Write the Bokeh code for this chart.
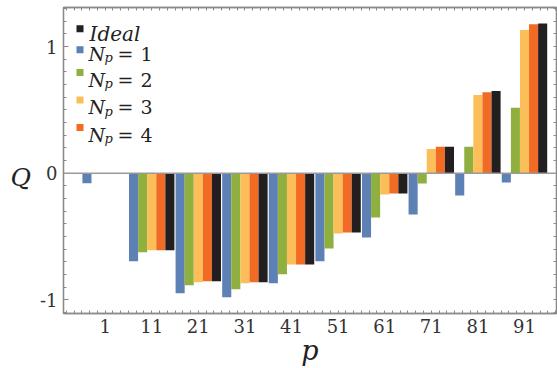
import numpy as np
from bokeh.plotting import figure
from bokeh.models import FixedTicker, LinearAxis, Range1d, Span, Label
from bokeh.embed import file_html
from bokeh.resources import INLINE

# ---------------- data ----------------
p_values = [1, 11, 21, 31, 41, 51, 61, 71, 81, 91]
q_np1 = [-0.079, -0.696, -0.948, -0.980, -0.869, -0.696, -0.507, -0.326, -0.176, -0.074]
q_np2 = [-0.003, -0.625, -0.885, -0.917, -0.798, -0.594, -0.350, -0.082, 0.209, 0.517]
q_np3 = [-0.003, -0.609, -0.861, -0.869, -0.720, -0.476, -0.168, 0.191, 0.617, 1.131]
q_np4 = [-0.004, -0.609, -0.854, -0.861, -0.720, -0.468, -0.161, 0.209, 0.640, 1.176]
q_ideal = [0.000, -0.609, -0.854, -0.861, -0.720, -0.468, -0.161, 0.209, 0.650, 1.183]
y_ticks = [-1, 0, 1]

# ---------------- style ----------------
FONT = "DejaVu Serif"
GRAY = "#8a8a8a"
TXT = "#333333"
colors = ["#5E81B5", "#8FB03F", "#FBBE58", "#F26B24", "#231F20"]
series = [q_np1, q_np2, q_np3, q_np4, q_ideal]

W, H = 557, 368
FL, FR, FT, FB = 63, 556, 7, 314          # frame in page px
XS, XE = -7.93, 97.87
YS, YE = -1.108, 1.309

p = figure(width=W, height=H, output_backend="svg", toolbar_location=None,
           x_axis_type=None, y_axis_type=None,
           x_range=Range1d(XS, XE), y_range=Range1d(YS, YE),
           min_border_left=FL, min_border_right=W - FR,
           min_border_top=FT, min_border_bottom=H - FB)
p.outline_line_color = GRAY
p.outline_line_width = 1.3
p.background_fill_color = "white"
p.border_fill_color = "white"


def X(px):
    return XS + (px - FL) * (XE - XS) / (FR - FL)


def Y(py):
    return YE - (py - FT) * (YE - YS) / (FB - FT)


# bars
bw = 1.95
for i, (vals, c) in enumerate(zip(series, colors)):
    xs = np.array(p_values, dtype=float) + (i - 2) * bw
    p.vbar(x=xs, top=vals, bottom=0, width=bw, fill_color=c, line_color=None)

p.add_layout(Span(location=0, dimension="width", line_color="#9a9a9a", line_width=1.5))

# x frame ticks (group boundaries + subdivisions)
bounds = [v - 5 for v in p_values] + [p_values[-1] + 5]
minor_x = [float(v) for v in np.arange(bounds[0] - 10, bounds[-1] + 10, 10 / 6)]
minor_y = [round(float(v), 2) for v in np.arange(-1.1, 1.31, 0.1)]


def frame_axis(minor):
    return LinearAxis(ticker=FixedTicker(ticks=[], minor_ticks=minor),
                      major_tick_in=0, major_tick_out=0,
                      minor_tick_in=3, minor_tick_out=0,
                      axis_line_color=GRAY, axis_line_width=1.3,
                      minor_tick_line_color=GRAY)


p.add_layout(frame_axis(minor_x), "above")
p.add_layout(frame_axis(minor_y), "right")

xlab = LinearAxis(ticker=FixedTicker(ticks=p_values, minor_ticks=minor_x),
                  major_tick_in=0, major_tick_out=0, minor_tick_in=3, minor_tick_out=0,
                  axis_line_color=GRAY, axis_line_width=1.3,
                  minor_tick_line_color=GRAY, major_label_standoff=5,
                  major_label_text_font=FONT, major_label_text_font_size="18px",
                  major_label_text_color=TXT,
                  axis_label="p", axis_label_text_font=FONT,
                  axis_label_text_font_style="italic", axis_label_text_font_size="27px",
                  axis_label_text_color="#222222", axis_label_standoff=-1)
p.add_layout(xlab, "below")

yax = LinearAxis(ticker=FixedTicker(ticks=y_ticks, minor_ticks=minor_y),
                 major_tick_in=5, major_tick_out=0, minor_tick_in=3, minor_tick_out=0,
                 axis_line_color=GRAY, axis_line_width=1.3,
                 major_tick_line_color=GRAY, minor_tick_line_color=GRAY,
                 major_label_standoff=6, major_label_text_font=FONT,
                 major_label_text_font_size="18px", major_label_text_color=TXT,
                 major_label_overrides={-1: "-1", 0: "0", 1: "1"},
                 axis_label="\nQ", axis_label_text_font=FONT,
                 axis_label_text_font_style="italic", axis_label_text_font_size="25px",
                 axis_label_text_color="#222222", axis_label_standoff=6,
                 axis_label_orientation="horizontal")
p.add_layout(yax, "left")

# legend
leg_names = ["Ideal", "1", "2", "3", "4"]
leg_colors = [colors[4], colors[0], colors[1], colors[2], colors[3]]
sq_y = [28.3, 49.5, 72.3, 99.7, 127.5]
base_y = [34.0, 53.3, 80.0, 107.3, 135.0]
p.scatter(x=[X(79.5)] * 5, y=[Y(v) for v in sq_y], marker="square", size=7,
          fill_color=leg_colors, line_color=None)
for name, by in zip(leg_names, base_y):
    if name == "Ideal":
        p.add_layout(Label(x=X(89), y=Y(by), text="Ideal", text_font=FONT,
                           text_font_style="italic", text_font_size="20px",
                           text_color="#222222", text_baseline="alphabetic"))
    else:
        p.add_layout(Label(x=X(88), y=Y(by), text="N", text_font=FONT,
                           text_font_style="italic", text_font_size="19px",
                           text_color="#222222", text_baseline="alphabetic"))
        p.add_layout(Label(x=X(104), y=Y(by + 3.7), text="p", text_font=FONT,
                           text_font_style="italic", text_font_size="13px",
                           text_color="#222222", text_baseline="alphabetic"))
        p.add_layout(Label(x=X(117), y=Y(by), text="=", text_font=FONT,
                           text_font_size="19px",
                           text_color="#222222", text_baseline="alphabetic"))
        p.add_layout(Label(x=X(140), y=Y(by), text=name, text_font=FONT,
                           text_font_size="19px",
                           text_color="#222222", text_baseline="alphabetic"))

open("out.html", "w").write(file_html(p, INLINE))
